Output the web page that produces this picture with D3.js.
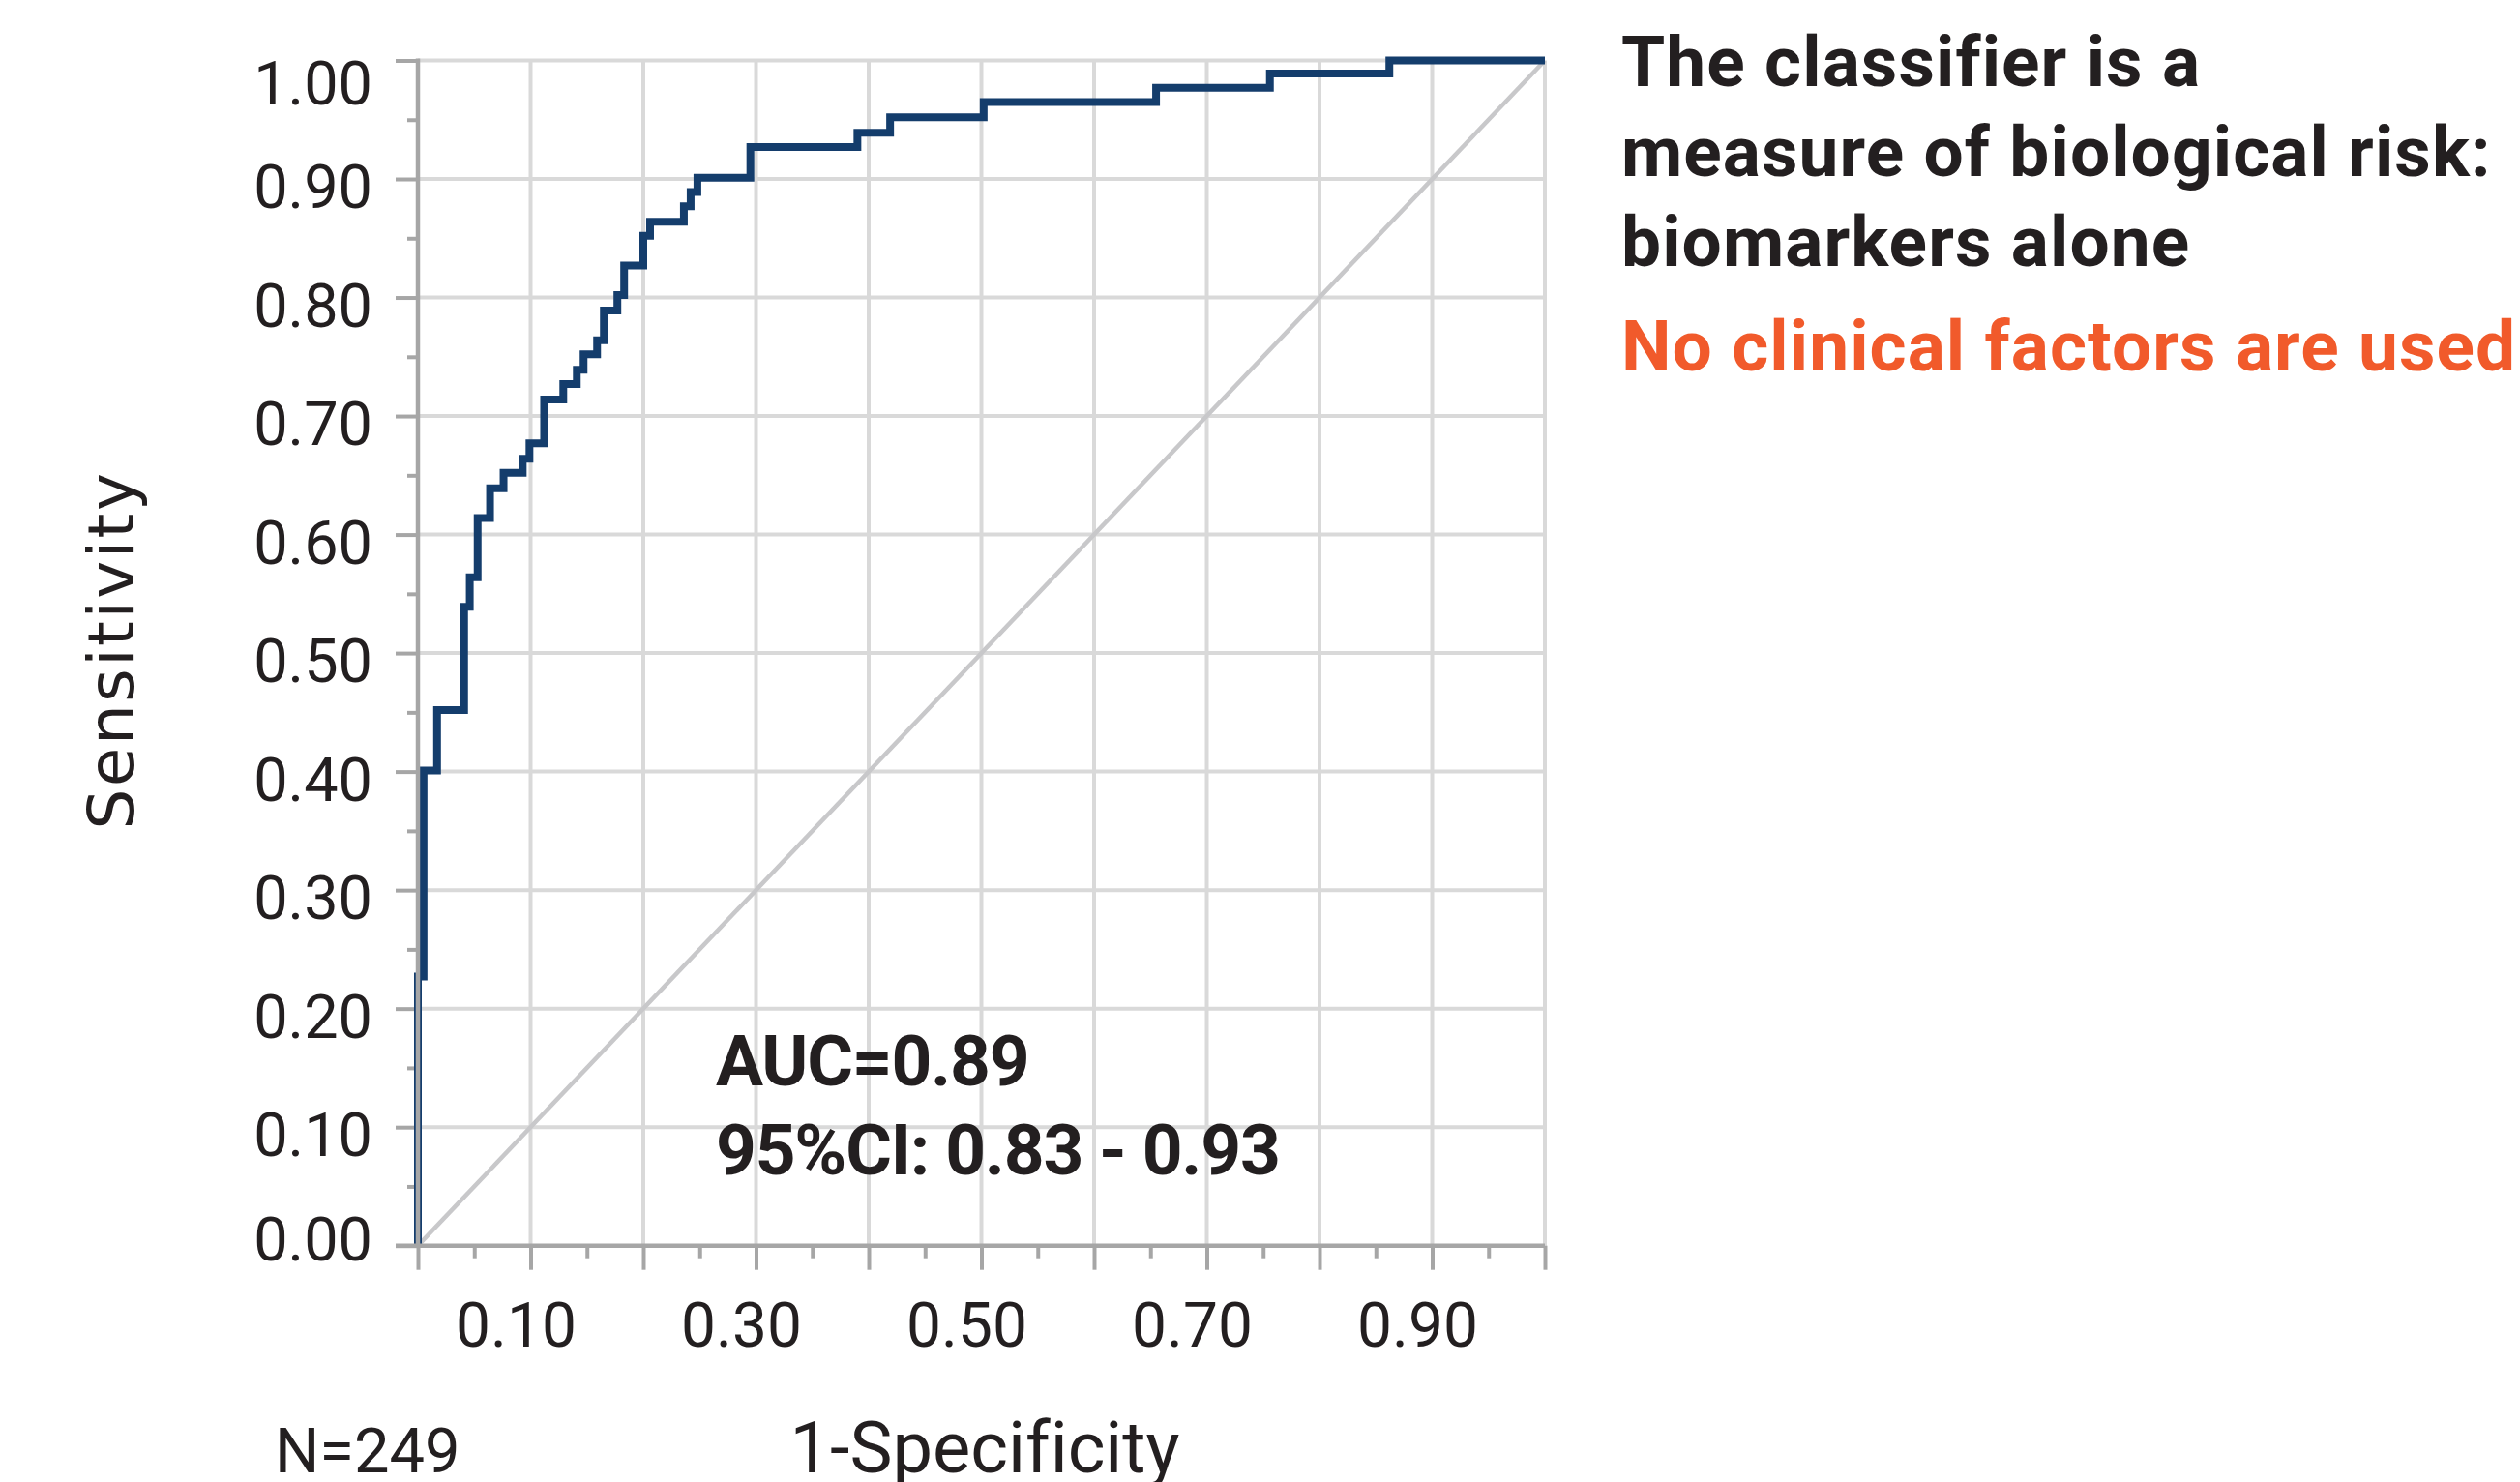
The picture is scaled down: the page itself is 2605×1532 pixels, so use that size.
<!DOCTYPE html>
<html>
<head>
<meta charset="utf-8">
<script src="https://cdn.jsdelivr.net/npm/d3@7"></script>
<style>
  body { margin: 0; background: #fff; }
  svg { display: block; }
  text { font-variant-ligatures: none; }
</style>
</head>
<body>
<div id="chart"></div>
<script>
// ROC curve corner points (1-specificity, sensitivity)
const fpr = [0, 0, 0.005, 0.017, 0.041, 0.046, 0.053, 0.064, 0.076, 0.093, 0.099, 0.112,
    0.129, 0.141, 0.147, 0.159, 0.165, 0.177, 0.183, 0.200, 0.206, 0.236, 0.242, 0.248,
    0.295, 0.390, 0.419, 0.502, 0.655, 0.756, 0.862, 1.0];
const tpr = [0, 0.227, 0.401, 0.452, 0.539, 0.564, 0.614, 0.639, 0.652, 0.664, 0.677, 0.714,
    0.727, 0.739, 0.752, 0.764, 0.789, 0.802, 0.827, 0.852, 0.864, 0.877, 0.889, 0.901,
    0.927, 0.939, 0.952, 0.965, 0.977, 0.989, 1.0, 1.0];

const yTickLabels = ["0.00", "0.10", "0.20", "0.30", "0.40", "0.50", "0.60", "0.70", "0.80", "0.90", "1.00"];
const xTickLabels = ["0.10", "0.30", "0.50", "0.70", "0.90"];

const yTitle = "Sensitivity";
const xTitle = "1-Specificity";
const nLabel = "N=249";
const aucLines = ["AUC=0.89", "95%CI: 0.83 - 0.93"];
const noteLines = ["The classifier is a", "measure of biological risk:", "biomarkers alone"];
const noteHighlight = "No clinical factors are used";

const width = 2605, height = 1532;

const svg = d3.select("#chart").append("svg")
    .attr("width", width)
    .attr("height", height);

const x = d3.scaleLinear().domain([0, 1]).range([432, 1597]);
const y = d3.scaleLinear().domain([0, 1]).range([1287.7, 62.5]);

const majors = d3.range(0, 11).map(i => i / 10);
const minors = d3.range(0, 10).map(i => i / 10 + 0.05);

// grid
svg.append("g").selectAll("line.gx")
    .data(majors.slice(1))
    .enter().append("line")
    .attr("x1", d => x(d)).attr("x2", d => x(d))
    .attr("y1", y(0)).attr("y2", y(1))
    .attr("stroke", "#d9d9d9").attr("stroke-width", 4);

svg.append("g").selectAll("line.gy")
    .data(majors.slice(1))
    .enter().append("line")
    .attr("x1", x(0)).attr("x2", x(1))
    .attr("y1", d => y(d)).attr("y2", d => y(d))
    .attr("stroke", "#d9d9d9").attr("stroke-width", 4);

// chance diagonal
svg.append("line")
    .attr("x1", x(0)).attr("y1", y(0))
    .attr("x2", x(1)).attr("y2", y(1))
    .attr("stroke", "#c8c8ca").attr("stroke-width", 4.5);

// axes (tick marks only, labels drawn below)
const axisColor = "#a6a6a6";
const styleAxis = g => {
    g.select(".domain").remove();
    g.selectAll("line").attr("stroke", axisColor).attr("stroke-width", 4);
};

svg.append("g")
    .attr("transform", `translate(${x(0)},0)`)
    .call(d3.axisLeft(y).tickValues(majors).tickSize(23).tickFormat(""))
    .call(styleAxis);
svg.append("g")
    .attr("transform", `translate(${x(0)},0)`)
    .call(d3.axisLeft(y).tickValues(minors).tickSize(11).tickFormat(""))
    .call(styleAxis);
svg.append("g")
    .attr("transform", `translate(0,${y(0)})`)
    .call(d3.axisBottom(x).tickValues(majors).tickSize(25).tickFormat(""))
    .call(styleAxis);
svg.append("g")
    .attr("transform", `translate(0,${y(0)})`)
    .call(d3.axisBottom(x).tickValues(minors).tickSize(13).tickFormat(""))
    .call(styleAxis);

// ROC curve
const roc = fpr.map((f, i) => [f, tpr[i]]);
const line = d3.line()
    .x(d => x(d[0]))
    .y(d => y(d[1]))
    .curve(d3.curveStepAfter);

svg.append("path")
    .datum(roc)
    .attr("d", line)
    .attr("fill", "none")
    .attr("stroke", "#143d6c")
    .attr("stroke-width", 8)
    .attr("stroke-linejoin", "miter");

// axis lines
svg.append("line")
    .attr("x1", x(0)).attr("x2", x(0))
    .attr("y1", y(1) - 2).attr("y2", y(0))
    .attr("stroke", axisColor).attr("stroke-width", 4.5);
svg.append("line")
    .attr("x1", x(0) - 23).attr("x2", x(1))
    .attr("y1", y(0)).attr("y2", y(0))
    .attr("stroke", axisColor).attr("stroke-width", 4.5);

// tick labels
const textColor = "#231f20";
svg.append("g").selectAll("text")
    .data(yTickLabels)
    .enter().append("text")
    .attr("x", 385)
    .attr("y", d => {
        const v = +d;
        if (v === 1) return y(v) + 45;
        if (v === 0) return y(v) + 15;
        return y(v) + 30;
    })
    .attr("text-anchor", "end")
    .attr("font-family", "Roboto, sans-serif")
    .attr("font-size", 63)
    .attr("fill", textColor)
    .text(d => d);

svg.append("g").selectAll("text")
    .data(xTickLabels)
    .enter().append("text")
    .attr("x", d => x(+d) - 15)
    .attr("y", 1392)
    .attr("text-anchor", "middle")
    .attr("font-family", "Roboto, sans-serif")
    .attr("font-size", 64)
    .attr("fill", textColor)
    .text(d => d);

// titles
svg.append("text")
    .attr("transform", "translate(138,672) rotate(-90)")
    .attr("text-anchor", "middle")
    .attr("font-family", "'DejaVu Sans', sans-serif")
    .attr("font-size", 66)
    .attr("letter-spacing", 2.5)
    .attr("fill", textColor)
    .text(yTitle);

svg.append("text")
    .attr("x", 1018).attr("y", 1522)
    .attr("text-anchor", "middle")
    .attr("font-family", "Roboto, sans-serif")
    .attr("font-size", 74)
    .attr("fill", textColor)
    .text(xTitle);

svg.append("text")
    .attr("x", 284).attr("y", 1522)
    .attr("font-family", "Roboto, sans-serif")
    .attr("font-size", 65)
    .attr("fill", textColor)
    .text(nLabel);

// AUC annotation
svg.append("g").selectAll("text")
    .data(aucLines)
    .enter().append("text")
    .attr("x", 740)
    .attr("y", (d, i) => 1122 + i * 92)
    .attr("font-family", "Roboto, sans-serif")
    .attr("font-weight", "bold")
    .attr("font-size", 73)
    .attr("letter-spacing", -1.2)
    .attr("fill", textColor)
    .text(d => d);

// side note
svg.append("g").selectAll("text")
    .data(noteLines)
    .enter().append("text")
    .attr("x", 1676)
    .attr("y", (d, i) => 89 + i * 93)
    .attr("font-family", "Roboto, sans-serif")
    .attr("font-weight", "bold")
    .attr("font-size", 73)
    .attr("letter-spacing", 1.1)
    .attr("fill", textColor)
    .text(d => d);

svg.append("text")
    .attr("x", 1676).attr("y", 383)
    .attr("font-family", "Roboto, sans-serif")
    .attr("font-weight", "bold")
    .attr("font-size", 73)
    .attr("letter-spacing", 1.1)
    .attr("fill", "#f15a2b")
    .text(noteHighlight);
</script>
</body>
</html>
